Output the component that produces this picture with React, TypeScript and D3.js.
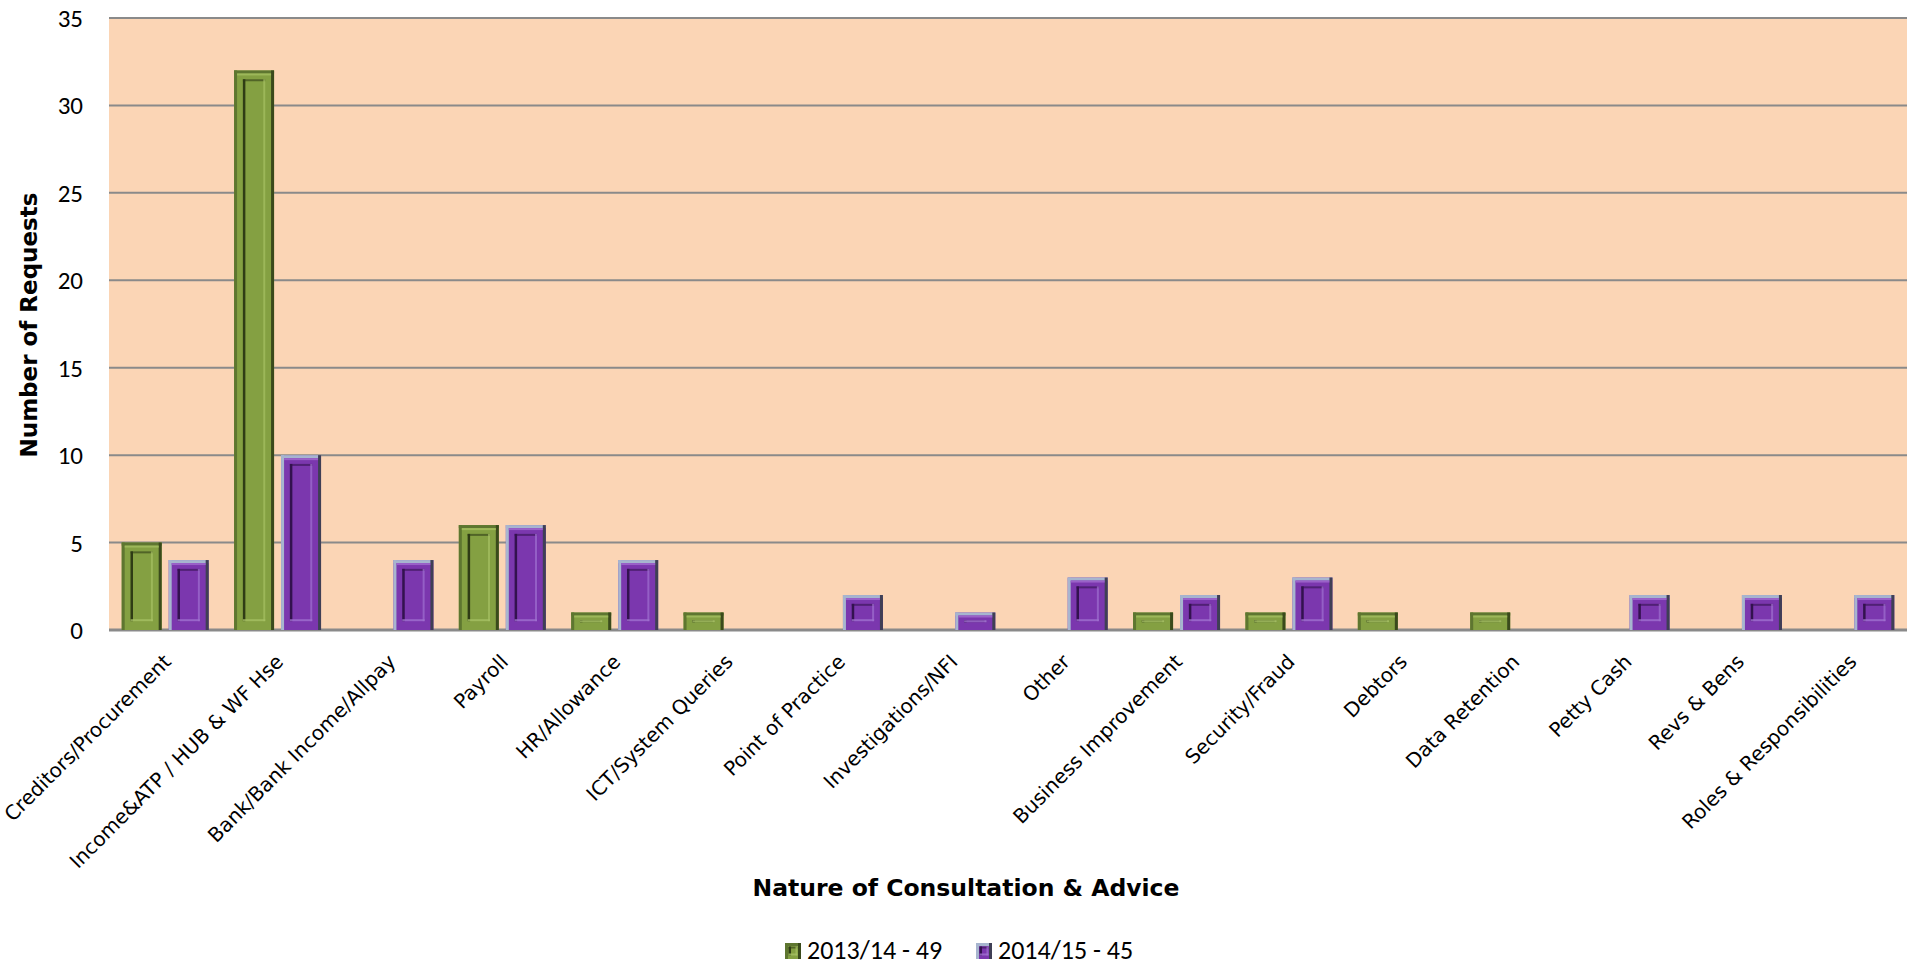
import React from "react";
import * as d3 from "d3";

const categories = [
  "Creditors/Procurement",
  "Income&ATP / HUB & WF Hse",
  "Bank/Bank Income/Allpay",
  "Payroll",
  "HR/Allowance",
  "ICT/System Queries",
  "Point of Practice",
  "Investigations/NFI",
  "Other",
  "Business Improvement",
  "Security/Fraud",
  "Debtors",
  "Data Retention",
  "Petty Cash",
  "Revs & Bens",
  "Roles & Responsibilities",
];

const series2013 = [5, 32, 0, 6, 1, 1, 0, 0, 0, 1, 1, 1, 1, 0, 0, 0];
const series2014 = [4, 10, 4, 6, 4, 0, 2, 1, 3, 2, 3, 0, 0, 2, 2, 2];
const seriesNames = ["2013/14 - 49", "2014/15 - 45"];
const yTicks = [0, 5, 10, 15, 20, 25, 30, 35];

const W = 1907;
const H = 965;
const plotLeft = 109;
const plotRight = 1907;
const plotTop = 18;
const plotBottom = 630;

const COMIC = "'Comic Sans MS', 'DejaVu Sans', sans-serif";
const CALIBRI = "Carlito, Calibri, Lato, sans-serif";

type Style = { base: string; edgeTL: string; edgeBR: string; hi: string; innerDark: string; innerLight: string };
const styles: Style[] = [
  { base: "#84A042", edgeTL: "#5E7630", edgeBR: "#3A4A1C", hi: "#9DB85A", innerDark: "#2F3C15", innerLight: "#A6C064" },
  { base: "#7B37AE", edgeTL: "#A7B5CF", edgeBR: "#3F3F55", hi: "#9A62C8", innerDark: "#33124F", innerLight: "#A070D0" },
];

function Bevel({ x, y, w, h, s }: { x: number; y: number; w: number; h: number; s: Style }) {
  if (h <= 0) return null;
  const b = 3;
  const inset = Math.min(9, w * 0.22);
  const ix = x + inset;
  const iw = w - 2 * inset;
  const iy = y + Math.min(inset, h / 2 - 1);
  const ih = Math.max(1, h - 2 * Math.min(inset, h / 2 - 1));
  return (
    <g>
      <rect x={x} y={y} width={w} height={h} fill={s.base} />
      <rect x={x} y={y} width={w} height={Math.min(b, h)} fill={s.edgeTL} />
      <rect x={x} y={y} width={b} height={h} fill={s.edgeTL} />
      <rect x={x + w - b} y={y} width={b} height={h} fill={s.edgeBR} />
      {h > 6 && <rect x={x + b} y={y + b} width={w - 2 * b} height={2} fill={s.hi} />}
      {h > 4 && (
        <g>
          <rect x={ix} y={iy} width={iw} height={ih} fill={s.base} />
          <rect x={ix} y={iy} width={2.5} height={ih} fill={s.innerDark} />
          <rect x={ix} y={iy} width={iw} height={Math.min(2, ih)} fill={s.innerDark} opacity={0.6} />
          <rect x={ix + iw - 2} y={iy} width={2} height={ih} fill={s.innerLight} opacity={0.7} />
          <rect x={ix} y={iy + ih - 2} width={iw} height={Math.min(2, ih)} fill={s.innerLight} opacity={0.8} />
        </g>
      )}
    </g>
  );
}

export default function App() {
  const x0 = d3.scaleBand<string>().domain(categories).range([plotLeft, plotRight]).padding(0);
  const bw = x0.bandwidth();
  const x1 = d3
    .scaleBand<string>()
    .domain(["a", "b"])
    .range([bw * 0.113, bw * 0.887])
    .paddingInner(0.149)
    .paddingOuter(0);
  const y = d3.scaleLinear().domain([0, 35]).range([plotBottom, plotTop]);
  const seriesList = [series2013, series2014];
  const keys = ["a", "b"];

  return (
    <svg width={W} height={H} style={{ position: "absolute", left: 0, top: 0, background: "#fff" }}>
      <rect x={plotLeft} y={plotTop} width={plotRight - plotLeft} height={plotBottom - plotTop} fill="#FBD5B5" />
      {yTicks.map((t) => (
        <g key={t}>
          <line x1={plotLeft} x2={plotRight} y1={y(t)} y2={y(t)} stroke="#8A8A8A" strokeWidth={t === 0 ? 3 : 2} />
          <text
            x={83}
            y={y(t)}
            dy="0.36em"
            textAnchor="end"
            fontFamily={CALIBRI}
            fontSize={25}
            fill="#000"
          >
            {t}
          </text>
        </g>
      ))}
      {categories.map((c, i) => (
        <g key={c}>
          {seriesList.map((ser, si) => {
            const v = ser[i];
            const bx = (x0(c) as number) + (x1(keys[si]) as number);
            const top = y(v);
            return <Bevel key={si} x={bx} y={top} w={x1.bandwidth()} h={plotBottom - top} s={styles[si]} />;
          })}
        </g>
      ))}
      {categories.map((c) => {
        const cx = (x0(c) as number) + bw / 2 + 7;
        const cy = plotBottom + 33;
        return (
          <text
            key={"l" + c}
            transform={`translate(${cx},${cy}) rotate(-45)`}
            textAnchor="end"
            fontFamily={COMIC}
            fontSize={20}
            fill="#000"
          >
            {c}
          </text>
        );
      })}
      <text
        transform={`translate(37,325) rotate(-90)`}
        textAnchor="middle"
        fontFamily={COMIC}
        fontWeight="bold"
        fontSize={23}
      >
        Number of Requests
      </text>
      <text x={966} y={896} textAnchor="middle" fontFamily={COMIC} fontWeight="bold" fontSize={23.5}>
        Nature of Consultation & Advice
      </text>
      {seriesNames.map((n, i) => {
        const lx = i === 0 ? 785 : 976;
        return (
          <g key={n}>
            <Bevel x={lx} y={943} w={16} h={16} s={styles[i]} />
            <text x={lx + 22} y={959} fontFamily={CALIBRI} fontSize={26}>
              {n}
            </text>
          </g>
        );
      })}
    </svg>
  );
}
